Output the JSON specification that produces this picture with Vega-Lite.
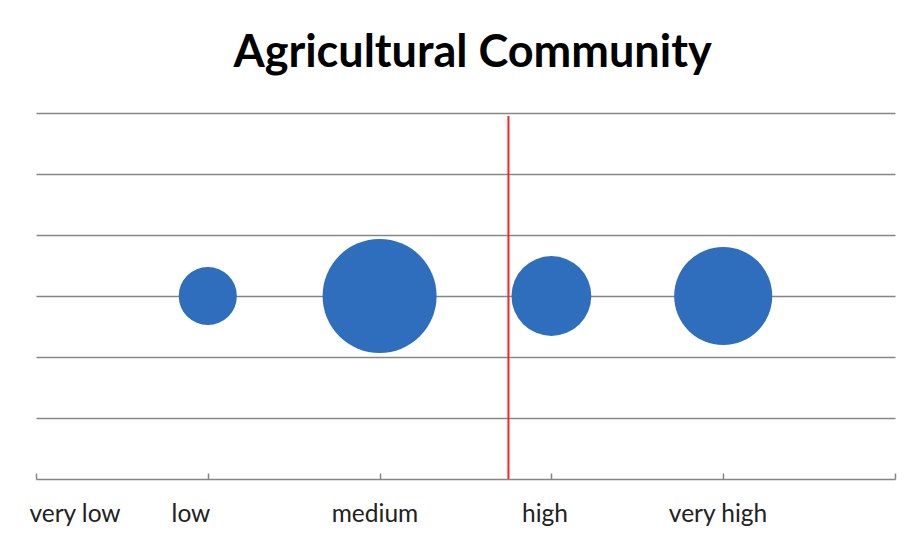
{
  "$schema": "https://vega.github.io/schema/vega-lite/v6.json",
  "width": 859,
  "height": 366,
  "autosize": {"type": "none"},
  "padding": {"left": 36, "top": 113, "right": 16, "bottom": 69},
  "background": "white",
  "title": {
    "text": "Agricultural Community",
    "font": "Lato",
    "fontSize": 45,
    "fontWeight": "bold",
    "color": "#000000",
    "anchor": "middle",
    "offset": 37,
    "dx": 7
  },
  "config": {"view": {"stroke": null}},
  "datasets": {
    "bubbles": [
      {"level": "low", "x": 1, "y": 3, "value": 26},
      {"level": "medium", "x": 2, "y": 3, "value": 100},
      {"level": "high", "x": 3, "y": 3, "value": 49},
      {"level": "very high", "x": 4, "y": 3, "value": 74}
    ],
    "labels": [
      {"label": "very low", "x": 0.227, "y": -0.59},
      {"label": "low", "x": 0.902, "y": -0.59},
      {"label": "medium", "x": 1.973, "y": -0.59},
      {"label": "high", "x": 2.963, "y": -0.59},
      {"label": "very high", "x": 3.97, "y": -0.59}
    ],
    "marker": [{"x": 2.75, "y": 0, "y2": 5.95}]
  },
  "layer": [
    {
      "data": {"name": "bubbles"},
      "mark": {"type": "circle", "color": "#2E6EBC", "opacity": 1},
      "encoding": {
        "x": {
          "field": "x", "type": "quantitative",
          "scale": {"domain": [0, 5], "nice": false, "zero": false},
          "axis": {
            "values": [0, 1, 2, 3, 4, 5],
            "labels": false, "title": null, "grid": false,
            "domainColor": "#868686", "domainWidth": 1.5,
            "tickColor": "#868686", "tickWidth": 1.5, "tickSize": -6
          }
        },
        "y": {
          "field": "y", "type": "quantitative",
          "scale": {"domain": [0, 6], "nice": false},
          "axis": {
            "values": [1, 2, 3, 4, 5, 6],
            "labels": false, "ticks": false, "domain": false, "title": null,
            "grid": true, "gridColor": "#868686", "gridWidth": 1.3
          }
        },
        "size": {
          "field": "value", "type": "quantitative",
          "scale": {"type": "linear", "domain": [0, 100], "range": [0, 12996], "zero": true},
          "legend": null
        }
      }
    },
    {
      "data": {"name": "marker"},
      "mark": {"type": "rule", "color": "#FF2020", "strokeWidth": 2},
      "encoding": {
        "x": {"field": "x", "type": "quantitative"},
        "y": {"field": "y", "type": "quantitative"},
        "y2": {"field": "y2"}
      }
    },
    {
      "data": {"name": "labels"},
      "mark": {"type": "text", "font": "Lato", "fontSize": 24.5, "color": "#222222", "align": "center", "baseline": "middle", "clip": false},
      "encoding": {
        "x": {"field": "x", "type": "quantitative"},
        "y": {"field": "y", "type": "quantitative"},
        "text": {"field": "label"}
      }
    }
  ]
}
